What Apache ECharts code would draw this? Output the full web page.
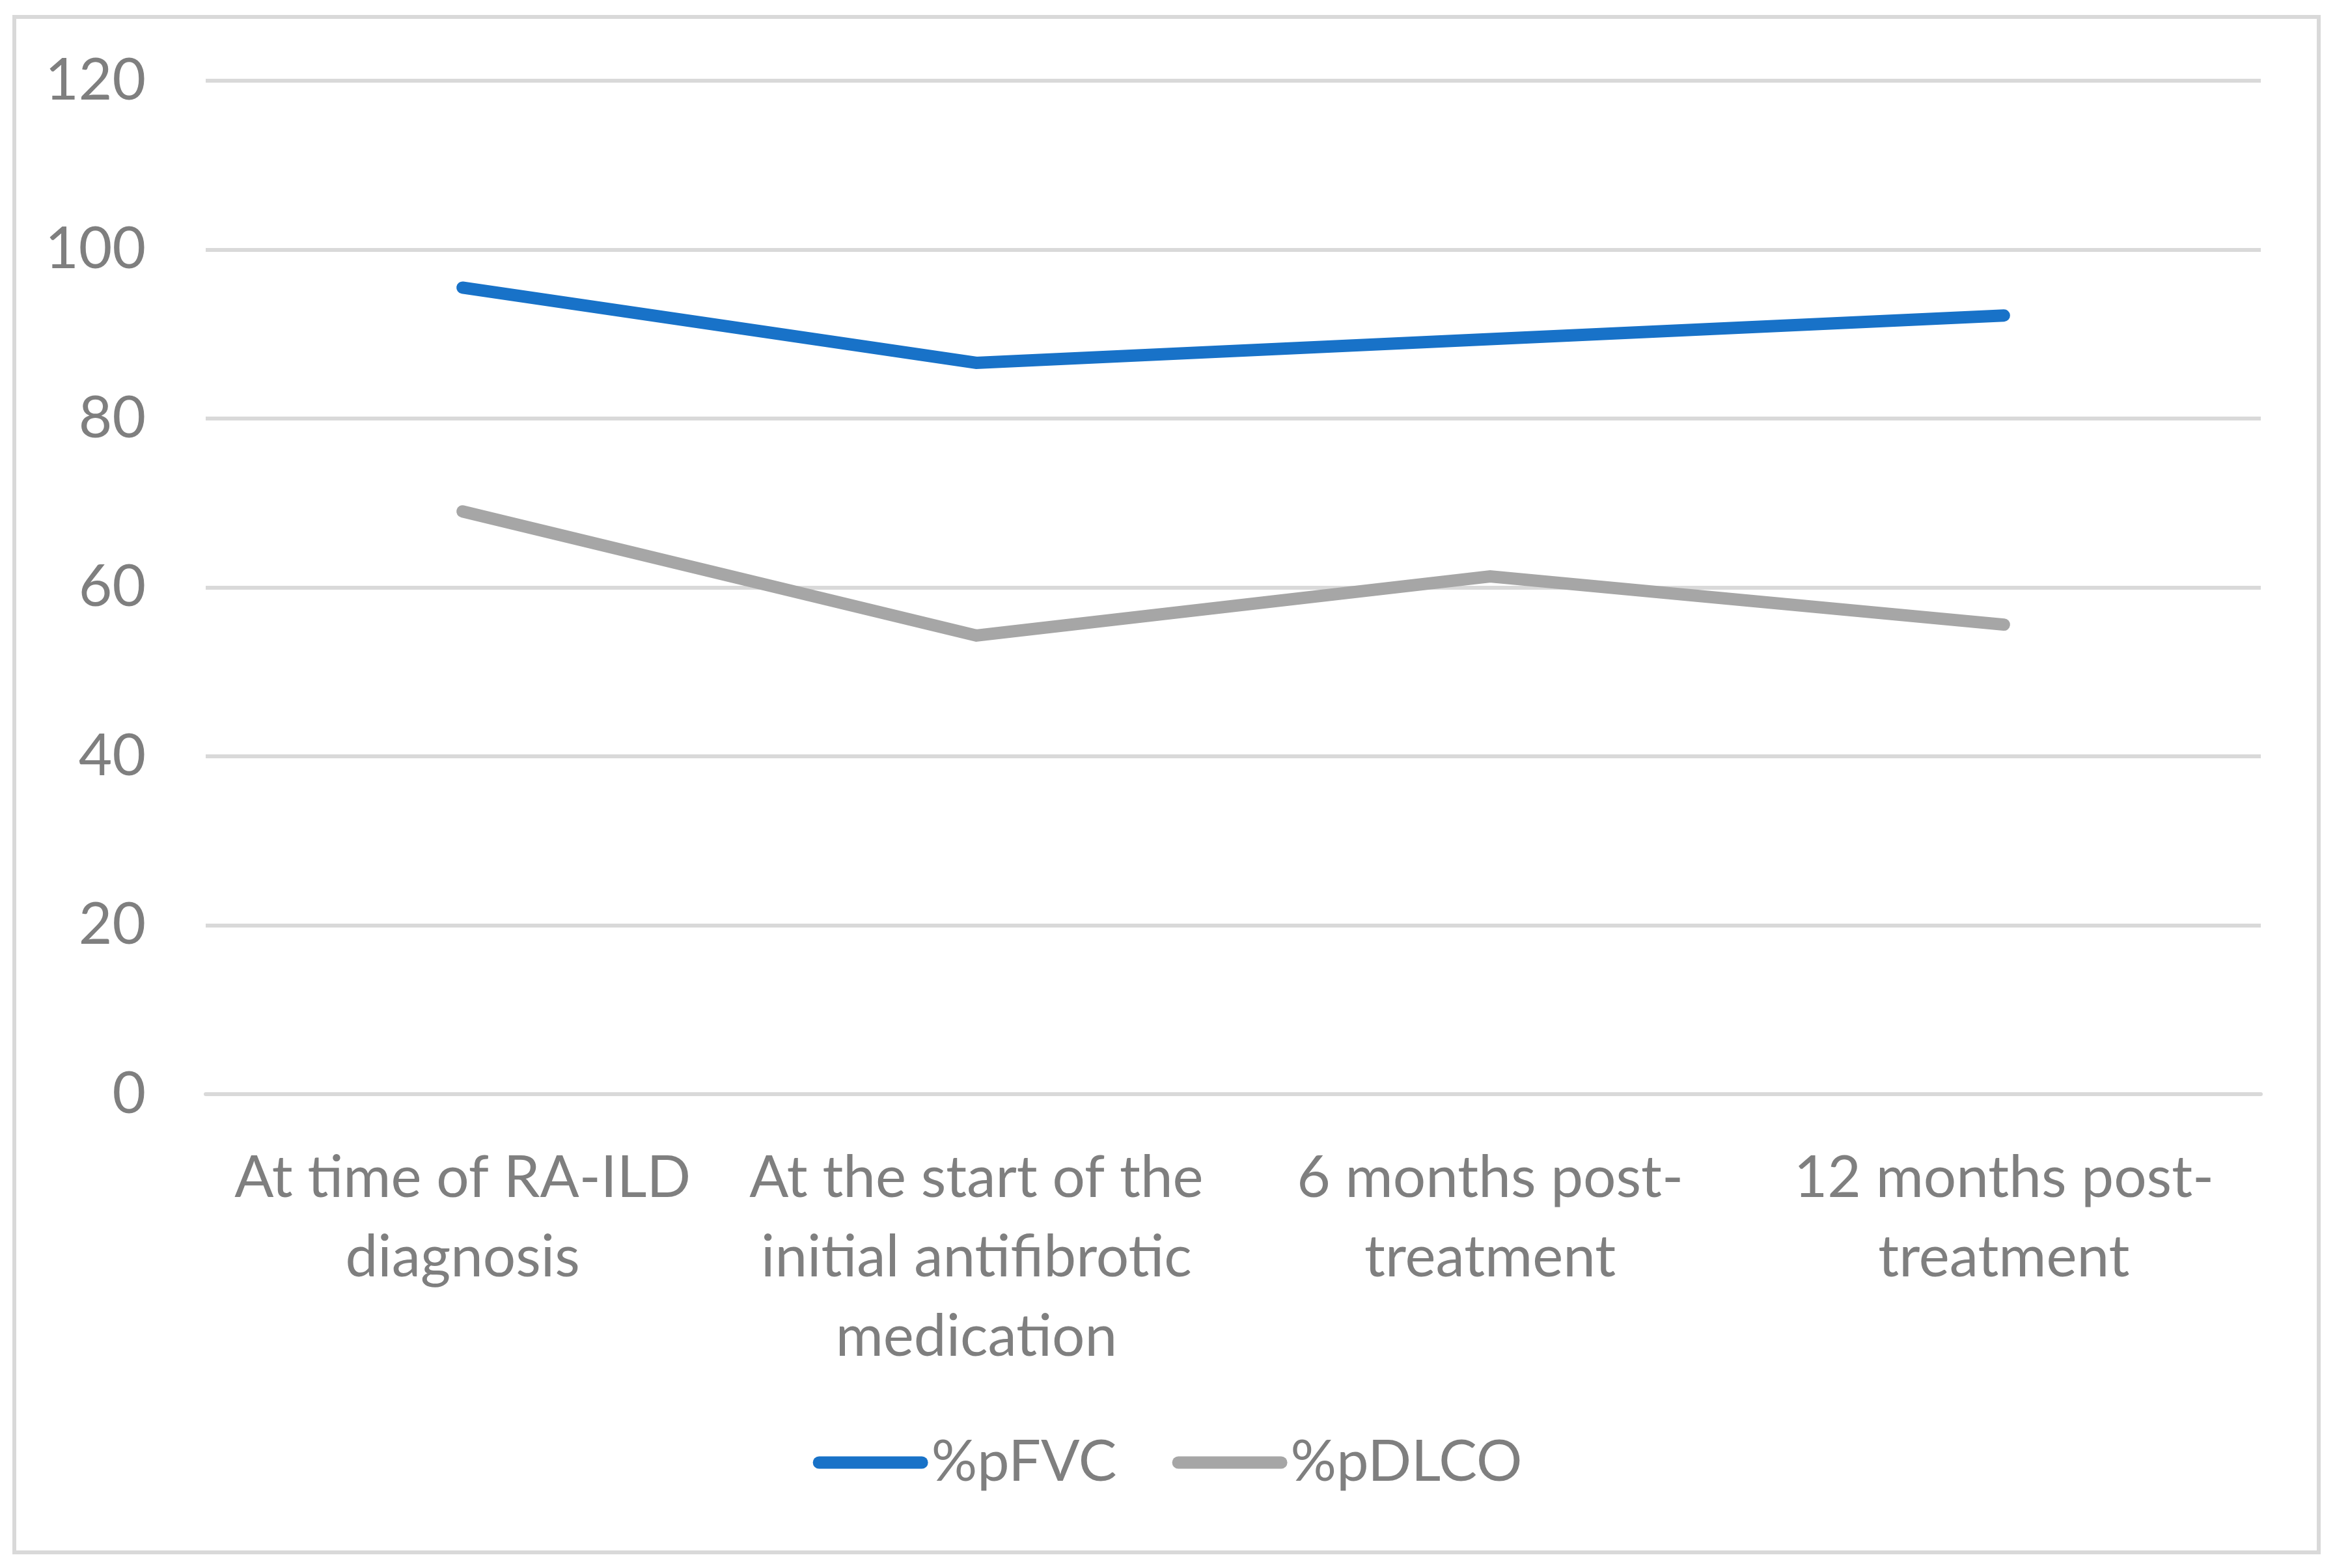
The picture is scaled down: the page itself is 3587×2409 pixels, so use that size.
<!DOCTYPE html>
<html>
<head>
<meta charset="utf-8">
<script src="https://cdn.jsdelivr.net/npm/echarts@6/dist/echarts.min.js"></script>
<style>
html,body{margin:0;padding:0;background:#fff;}
#chart{width:3587px;height:2409px;}
</style>
</head>
<body>
<div id="chart"></div>
<script>
const categories = [
  "At time of RA-ILD\ndiagnosis",
  "At the start of the\ninitial antifibrotic\nmedication",
  "6 months post-\ntreatment",
  "12 months post-\ntreatment"
];
const seriesNames = ["%pFVC", "%pDLCO"];
const pFVC = [95.5, 86.6, 89.4, 92.2];
const pDLCO = [69.0, 54.3, 61.3, 55.6];
const yTicks = { min: 0, max: 120, interval: 20 };

const FONT = "Lato";
const TXT = "#7f7f7f";
const capsule = 'path://M9.5,0 H167.5 A9.5,9.5 0 0 1 167.5,19 H9.5 A9.5,9.5 0 0 1 9.5,0 Z';

const chart = echarts.init(document.getElementById('chart'), null, { renderer: 'canvas' });
chart.setOption({
  backgroundColor: '#ffffff',
  animation: false,
  graphic: [{
    type: 'rect',
    shape: { x: 22, y: 26, width: 3540, height: 2359 },
    style: { fill: 'none', stroke: '#d9d9d9', lineWidth: 6 },
    silent: true
  }],
  grid: { left: 316, right: 114, top: 124, bottom: 728 },
  legend: {
    data: seriesNames,
    left: 'center',
    top: 2198,
    itemWidth: 177,
    itemHeight: 19,
    itemGap: 85,
    icon: capsule,
    textStyle: { color: TXT, fontFamily: FONT, fontSize: 88 }
  },
  xAxis: {
    type: 'category',
    data: categories,
    boundaryGap: true,
    axisLine: { show: true, lineStyle: { color: '#d9d9d9', width: 6 } },
    axisTick: { show: false },
    axisLabel: {
      color: TXT, fontFamily: FONT, fontSize: 89, lineHeight: 122,
      margin: 68, interval: 0, align: 'center'
    }
  },
  yAxis: {
    type: 'value',
    min: yTicks.min, max: yTicks.max, interval: yTicks.interval,
    axisLine: { show: false },
    axisTick: { show: false },
    splitLine: { lineStyle: { color: '#d9d9d9', width: 6 } },
    axisLabel: { color: TXT, fontFamily: FONT, fontSize: 89, margin: 92 }
  },
  series: [
    {
      name: seriesNames[0], type: 'line', data: pFVC,
      symbol: 'none', showSymbol: false,
      lineStyle: { color: '#1872c8', width: 19, cap: 'round', join: 'miter' },
      itemStyle: { color: '#1872c8' }
    },
    {
      name: seriesNames[1], type: 'line', data: pDLCO,
      symbol: 'none', showSymbol: false,
      lineStyle: { color: '#a6a6a6', width: 19, cap: 'round', join: 'miter' },
      itemStyle: { color: '#a6a6a6' }
    }
  ]
});
</script>
</body>
</html>
